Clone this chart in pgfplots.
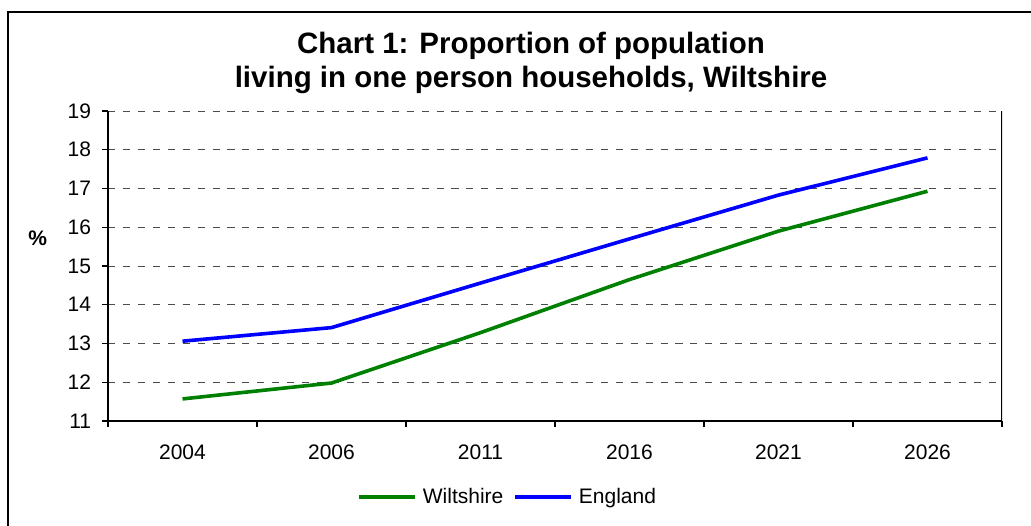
\documentclass[border=0pt]{standalone}
\usepackage{fontspec}
\setmainfont{Liberation Sans}
\usepackage{pgfplots}
\pgfplotsset{compat=1.18}
\definecolor{xlgreen}{RGB}{0,128,0}
\definecolor{xlblue}{RGB}{0,0,255}
\begin{document}
\begin{tikzpicture}
\path[use as bounding box] (0pt,0pt) rectangle (773.25pt,393.75pt);
\draw[black, line width=0.8pt] (6pt,-5pt) -- (6pt,384.75pt) -- (790pt,384.75pt);
\node[font=\fontsize{22.1}{27}\selectfont\bfseries, anchor=base, inner sep=0pt] at (398.25pt,353.8pt) {Chart 1: Proportion of population};
\node[font=\fontsize{22.1}{27}\selectfont\bfseries, anchor=base, inner sep=0pt] at (398.25pt,328pt) {living in one person households, Wiltshire};
\node[font=\fontsize{15.75}{18}\selectfont\bfseries, inner sep=0pt] at (28.2pt,215.25pt) {\%};
\begin{axis}[
  at={(81pt,78pt)}, anchor=south west,
  scale only axis, width=670.5pt, height=232.5pt,
  xmin=-0.5, xmax=5.5, ymin=11, ymax=19,
  xtick={-0.5,0.5,...,5.5}, xticklabels={},
  extra x ticks={0,1,2,3,4,5},
  extra x tick labels={2004,2006,2011,2016,2021,2026},
  extra x tick style={major tick length=0pt},
  ytick={11,12,...,19},
  axis x line*=bottom, axis y line*=left,
  axis line style={black, line width=1.1pt},
  tick align=outside,
  major tick length=4.5pt,
  tick style={black, line width=0.9pt},
  ymajorgrids,
  major grid style={dash pattern=on 5.3pt off 5.9pt, black!70, line width=0.75pt},
  /pgf/number format/assume math mode=true,
  tick label style={font=\fontsize{15.75}{18}\selectfont},
  yticklabel style={anchor=east, inner sep=0pt, xshift=-8pt},
  xticklabel style={anchor=base, inner sep=0pt, yshift=-28.5pt},
  legend style={at={(0.4459,-0.245)}, anchor=center, draw=none, fill=none,
    font=\fontsize{15.75}{18}\selectfont, nodes={inner sep=0pt},
    /tikz/every odd column/.append style={column sep=4.5pt},
    /tikz/every even column/.append style={column sep=7.5pt}},
  legend columns=2,
  legend image code/.code={\draw[#1, line width=2.7pt] (0pt,0pt) -- (42pt,0pt);},
]
\addplot[xlgreen, line width=2.7pt] coordinates {(0,11.57)(1,11.98)(2,13.28)(3,14.65)(4,15.90)(5,16.93)};
\addlegendentry{Wiltshire}
\addplot[xlblue, line width=2.7pt] coordinates {(0,13.06)(1,13.41)(2,14.56)(3,15.70)(4,16.83)(5,17.79)};
\addlegendentry{England}
\draw[black, line width=1.1pt] (rel axis cs:1,0) -- (rel axis cs:1,1);
\end{axis}
\end{tikzpicture}
\end{document}
